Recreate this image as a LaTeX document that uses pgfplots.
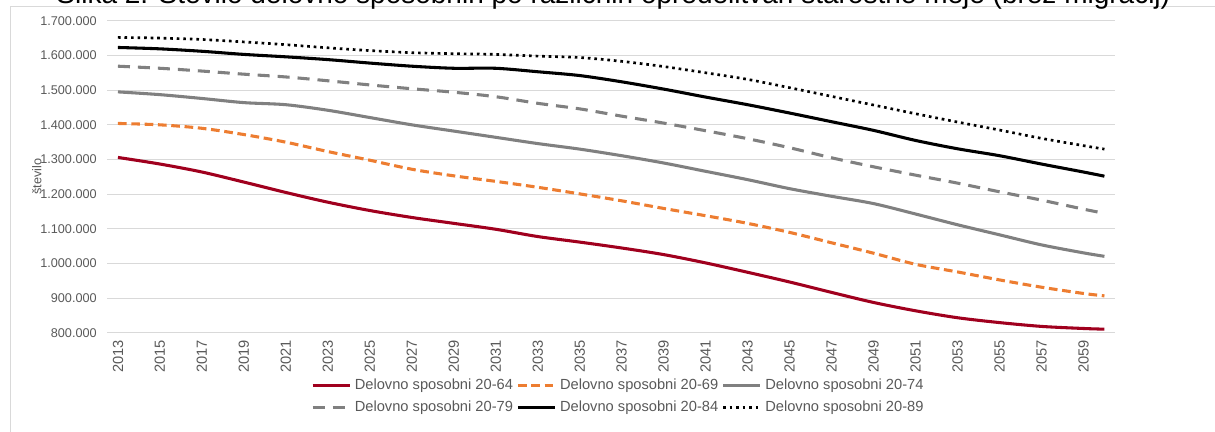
\documentclass[border=0pt]{standalone}
\usepackage{pgfplots}
\usepackage{pgfplotstable}
\pgfplotsset{compat=1.18}
\usepackage{fontspec}
\setmainfont{Liberation Sans}

\definecolor{txtgray}{HTML}{595959}
\definecolor{gridgray}{HTML}{D9D9D9}
\definecolor{dred}{HTML}{A0001E}
\definecolor{orng}{HTML}{ED7D31}
\definecolor{mgray}{HTML}{808080}

% stevilo delovno sposobnih po starostnih mejah
\pgfplotstableread{
leto a b c d e f
2013 1306000 1404000 1495000 1569000 1623000 1652000
2015 1287000 1400000 1487000 1563000 1619000 1650000
2017 1264000 1390000 1476000 1555000 1612000 1646000
2019 1235000 1372000 1464000 1546000 1603000 1639000
2021 1205000 1350000 1458000 1538000 1596000 1631000
2023 1177000 1323000 1442000 1527000 1588000 1622000
2025 1153000 1298000 1421000 1515000 1578000 1614000
2027 1133000 1272000 1400000 1504000 1569000 1608000
2029 1116000 1253000 1382000 1494000 1563000 1605000
2031 1099000 1237000 1364000 1481000 1563000 1603000
2033 1078000 1220000 1346000 1462000 1553000 1598000
2035 1062000 1201000 1330000 1446000 1542000 1594000
2037 1045000 1181000 1311000 1425000 1524000 1583000
2039 1026000 1159000 1290000 1405000 1503000 1568000
2041 1002000 1138000 1266000 1383000 1480000 1550000
2043 975000 1116000 1242000 1360000 1458000 1531000
2045 947000 1090000 1216000 1334000 1434000 1507000
2047 917000 1060000 1194000 1305000 1409000 1482000
2049 888000 1030000 1173000 1279000 1384000 1457000
2051 864000 998000 1143000 1255000 1355000 1432000
2053 844000 976000 1112000 1232000 1331000 1408000
2055 830000 953000 1083000 1207000 1311000 1385000
2057 819000 932000 1054000 1183000 1287000 1361000
2059 813000 914000 1031000 1157000 1264000 1340000
2060 811000 907000 1021000 1145000 1252000 1330000
}\podatki

\begin{document}
\begin{tikzpicture}
\useasboundingbox (0pt,0pt) rectangle (911.25pt,324pt);
\draw[gridgray, line width=0.75pt] (7.5pt,-10pt) rectangle (930pt,318.75pt);
\node[font=\fontsize{21}{25}\selectfont, anchor=base] at (460pt,321.5pt)
  {Slika 2: Število delovno sposobnih po različnih opredelitvah starostne meje (brez migracij)};
\begin{axis}[
  at={(80.6pt,74.25pt)}, anchor=south west,
  scale only axis, width=755.6pt, height=234.2pt,
  xmin=2012.5, xmax=2060.5, ymin=800000, ymax=1700000,
  xtick={2013,2015,...,2059},
  ytick={800000,900000,...,1700000},
  scaled y ticks=false,
  ymajorgrids, grid style={gridgray, line width=0.75pt},
  axis x line*=bottom, axis y line*=left,
  x axis line style={draw=gridgray, line width=0.75pt, -},
  y axis line style={draw=none},
  major tick length=0pt, tick style={draw=none},
  xticklabel style={font=\fontsize{11}{13}\selectfont, text=txtgray,
    rotate=90, anchor=east, inner sep=0pt,
    /pgf/number format/.cd, 1000 sep={}, assume math mode=true},
  yticklabel style={font=\fontsize{9.5}{11}\selectfont, text=txtgray,
    anchor=east, inner sep=0pt,
    /pgf/number format/.cd, fixed, precision=0, 1000 sep={.}, assume math mode=true},
  xticklabel shift=5.25pt, yticklabel shift=7.9pt,
  ylabel={število},
  every axis y label/.style={at={(axis description cs:-0.070,0.5)}, rotate=90, anchor=center,
    font=\fontsize{9.5}{11}\selectfont, text=txtgray},
  legend columns=3,
  legend cell align=left,
  legend image code/.code={\draw[#1] (0pt,0pt) -- (28pt,0pt);},
  legend style={draw=none, fill=none, inner sep=0pt,
    at={(axis description cs:0.5077,-0.14)}, anchor=north,
    font=\fontsize{11}{13}\selectfont, text=txtgray,
    nodes={inner xsep=2.5pt, inner ysep=1.5pt}, row sep=4pt},
]
\addplot[dred, line width=2.3pt, smooth] table[x=leto, y=a] {\podatki};
\addlegendentry{Delovno sposobni 20-64}
\addplot[orng, line width=2.3pt, smooth, dash pattern=on 6.5pt off 3.5pt] table[x=leto, y=b] {\podatki};
\addlegendentry{Delovno sposobni 20-69}
\addplot[mgray, line width=2.3pt, smooth] table[x=leto, y=c] {\podatki};
\addlegendentry{Delovno sposobni 20-74}
\addplot[mgray, line width=2.3pt, smooth, dash pattern=on 9pt off 6pt] table[x=leto, y=d] {\podatki};
\addlegendentry{Delovno sposobni 20-79}
\addplot[black, line width=2.3pt, smooth] table[x=leto, y=e] {\podatki};
\addlegendentry{Delovno sposobni 20-84}
\addplot[black, line width=2pt, smooth, dash pattern=on 2pt off 2.9pt] table[x=leto, y=f] {\podatki};
\addlegendentry{Delovno sposobni 20-89}
\end{axis}
\end{tikzpicture}
\end{document}
